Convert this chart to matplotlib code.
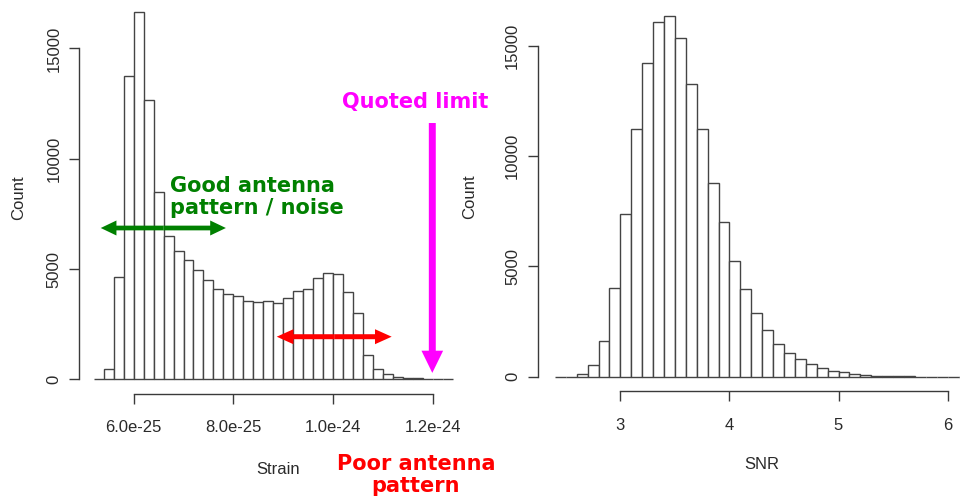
import matplotlib
matplotlib.use("Agg")
import matplotlib.pyplot as plt
import numpy as np
from matplotlib.patches import FancyArrowPatch

# ---- data -------------------------------------------------------------
strain_start = 5.2e-25
strain_width = 2e-26
strain_counts = [0, 480, 4651, 13763, 16650, 12675, 8490, 6482, 5830, 5394,
                 4955, 4515, 4107, 3880, 3762, 3549, 3490, 3549, 3472, 3672,
                 3989, 4107, 4592, 4832, 4760, 3971, 2992, 1102, 480, 227,
                 118, 73, 45, 30, 5, 0]
strain_ticks = [6.0e-25, 8.0e-25, 1.0e-24, 1.2e-24]
strain_ticklabels = ["6.0e-25", "8.0e-25", "1.0e-24", "1.2e-24"]

snr_start = 2.4
snr_width = 0.1
snr_counts = [0, 0, 122, 544, 1632, 4034, 7375, 11242, 14207, 16093, 16365,
              15340, 13255, 11242, 8781, 7026, 5245, 3975, 2901, 2131, 1469,
              1088, 816, 589, 381, 272, 213, 109, 91, 50, 35, 25, 15,
              0, 0, 0, 0, 0]
snr_ticks = [3, 4, 5, 6]
snr_ticklabels = ["3", "4", "5", "6"]

count_ticks = [0, 5000, 10000, 15000]
count_ticklabels = ["0", "5000", "10000", "15000"]

# ---- styling ----------------------------------------------------------
plt.rcParams["font.family"] = ["Liberation Sans", "DejaVu Sans"]
AX_COL = "#3a3a3a"
W, H = 960, 501
fig = plt.figure(figsize=(W / 100, H / 100), dpi=100)


def r_hist(ax, start, width, counts, xticks, xticklabels, xlabel):
    counts = np.asarray(counts, dtype=float)
    edges = start + width * np.arange(len(counts) + 1)
    ax.bar(edges[:-1], counts, width=width, align="edge",
           facecolor="white", edgecolor="#444444", linewidth=1.0)
    # base-R style 4% expansion of the data range
    xr = edges[-1] - edges[0]
    ax.set_xlim(edges[0] - 0.04 * xr, edges[-1] + 0.04 * xr)
    m = counts.max()
    ax.set_ylim(-0.04 * m, 1.04 * m)
    for s in ("top", "right"):
        ax.spines[s].set_visible(False)
    for s in ("left", "bottom"):
        ax.spines[s].set_color(AX_COL)
        ax.spines[s].set_linewidth(1.0)
    ax.spines["bottom"].set_bounds(xticks[0], xticks[-1])
    ax.spines["left"].set_bounds(count_ticks[0], count_ticks[-1])
    ax.set_xticks(xticks)
    ax.set_xticklabels(xticklabels)
    ax.set_yticks(count_ticks)
    ax.set_yticklabels(count_ticklabels, rotation=90, va="center")
    ax.tick_params(axis="both", direction="out", length=7, width=1.0,
                   color=AX_COL, labelsize=12, labelcolor="#2a2a2a")
    ax.tick_params(axis="x", pad=12)
    ax.tick_params(axis="y", pad=6)
    ax.set_xlabel(xlabel, fontsize=12, color="#2a2a2a")
    ax.set_ylabel("Count", fontsize=12, color="#2a2a2a")
    ax.xaxis.label.set_va("center")
    ax.yaxis.label.set_va("center")
    ax.patch.set_alpha(0)


def px_axes(left, right, bottom, height):
    return fig.add_axes([left / W, (H - bottom) / H, (right - left) / W, height / H])


# left panel: strain
px_per_count = 110.3 / 5000
m1 = max(strain_counts)
ax1 = px_axes(79.4, 467.1, 394.0, 1.08 * m1 * px_per_count)
r_hist(ax1, strain_start, strain_width, strain_counts,
       strain_ticks, strain_ticklabels, "Strain")
ax1.xaxis.set_label_coords(0.512, -0.19)
ax1.yaxis.set_label_coords(-0.158, 0.495)

# right panel: SNR
m2 = max(snr_counts)
ax2 = px_axes(538.3, 986.0, 376.7 + 0.04 * m2 * px_per_count, 1.08 * m2 * px_per_count)
r_hist(ax2, snr_start, snr_width, snr_counts,
       snr_ticks, snr_ticklabels, "SNR")
ax2.xaxis.set_label_coords(0.50, -0.189)
ax2.yaxis.set_label_coords(-0.1526, 0.498)

# ---- annotations on the strain panel ----------------------------------
MAGENTA, GREEN, RED = "#ff00ff", "#008000", "#ff0000"


def arrow(ax, p0, p1, color, ms, tail, hw, hl):
    a = FancyArrowPatch(p0, p1, transform=ax.transData,
                        arrowstyle=f"simple,head_length={hl},head_width={hw},tail_width={tail}",
                        mutation_scale=ms, color=color, lw=0,
                        shrinkA=0, shrinkB=0, clip_on=False, zorder=5)
    ax.add_patch(a)


def double_arrow(ax, x0, x1, y, color, ms, tail, hw, hl):
    xm = 0.5 * (x0 + x1)
    arrow(ax, (xm, y), (x0, y), color, ms, tail, hw, hl)
    arrow(ax, (xm, y), (x1, y), color, ms, tail, hw, hl)


# quoted limit marker
arrow(ax1, (1.199e-24, 11618), (1.199e-24, 290), MAGENTA, 10, 0.5, 1.56, 1.6)
ax1.text(1.1643e-24, 12570, "Quoted limit", color=MAGENTA, fontsize=15,
         fontweight="bold", family="DejaVu Sans", ha="center", va="center",
         zorder=6)

# good antenna pattern region
double_arrow(ax1, 5.34e-25, 7.85e-25, 6859, GREEN, 10, 0.34, 1.08, 1.13)
ax1.text(6.73e-25, 8264, "Good antenna\npattern / noise", color=GREEN,
         fontsize=15, fontweight="bold", family="DejaVu Sans",
         ha="left", va="center", linespacing=1.1, zorder=6)

# poor antenna pattern region
double_arrow(ax1, 8.87e-25, 1.1175e-24, 1931, RED, 10, 0.36, 1.08, 1.2)
ax1.text(1.1663e-24, -4338, "Poor antenna\npattern", color=RED,
         fontsize=15, fontweight="bold", family="DejaVu Sans",
         ha="center", va="center", linespacing=1.1, clip_on=False, zorder=6)

fig.savefig("out.png", dpi=100)
